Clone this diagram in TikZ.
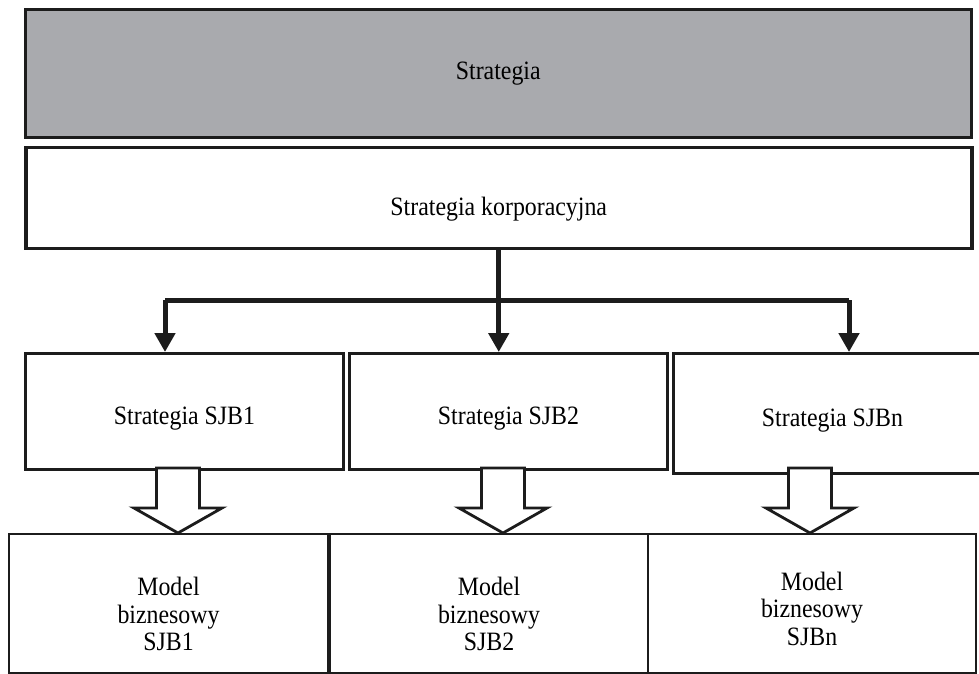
\documentclass[tikz,border=0pt]{standalone}
\usepackage{fontspec}
\setmainfont[FakeStretch=0.9]{Liberation Serif}
\usetikzlibrary{arrows.meta,positioning,calc}
\definecolor{boxgray}{RGB}{169,170,174}
\definecolor{linedark}{RGB}{28,28,28}

\tikzset{
  box/.style={draw=linedark, anchor=north west, inner sep=0pt, align=center,
              font=\fontsize{26.5}{27.5}\selectfont},
  flow/.style={draw=linedark, line width=5pt},
  hollowarrow/.style={draw=linedark, line width=2.8pt, fill=white, line join=miter}
}

\begin{document}
\begin{tikzpicture}[x=1pt,y=-1pt,>={Triangle[length=19pt,width=20pt]}]
\useasboundingbox (0,0) rectangle (979,673);
\clip (0,0) rectangle (979,673);

% top level
\node[box, fill=boxgray, line width=2.5pt,
      minimum width=946pt, minimum height=128pt] (strategia) at (24,8) {Strategia};
\node[box, line width=3.5pt, minimum width=946pt, minimum height=101pt,
      text height=42pt, below=7pt of strategia.south west, anchor=north west] (korp)
      {Strategia korporacyjna};

% business unit strategies
\node[box, line width=3pt, minimum width=318pt, minimum height=116pt,
      text height=32pt] (sjb1) at (24,352) {Strategia SJB1};
\node[box, line width=3pt, minimum width=318pt, minimum height=116pt,
      text height=32pt, right=3pt of sjb1.north east, anchor=north west] (sjb2) {Strategia SJB2};
\node[box, line width=3pt, minimum width=318pt, minimum height=120pt,
      text height=32pt, right=3pt of sjb2.north east, anchor=north west] (sjbn) {Strategia SJBn};

% business models
\node[box, line width=2pt, minimum width=319pt, minimum height=139pt,
      text height=95pt] (model1) at (8,533) {Model\\biznesowy\\SJB1};
\node[box, line width=2pt, minimum width=318pt, minimum height=139pt,
      text height=95pt] (model2) at (329,533) {Model\\biznesowy\\SJB2};
\node[box, line width=2pt, minimum width=328pt, minimum height=139pt,
      text height=84pt] (modeln) at (647,533) {Model\\biznesowy\\SJBn};

\coordinate (splitL) at (165,300);
\coordinate (splitR) at (849,300);

\draw[flow] (splitL) -- (splitR);
\draw[flow,->] (korp.south) -- (korp.south |- sjb2.north);
\draw[flow,->] (splitL) -- (splitL |- sjb1.north);
\draw[flow,->] (splitR) -- (splitR |- sjbn.north);

\foreach \m/\d in {model1/170, model2/174, modeln/163}
  \draw[hollowarrow] ($(\m.north west)+(\d,0)$) -- ++(-44,-25) -- ++(22.5,0) -- ++(0,-40)
    -- ++(43,0) -- ++(0,40) -- ++(22.5,0) -- cycle;
\end{tikzpicture}
\end{document}
